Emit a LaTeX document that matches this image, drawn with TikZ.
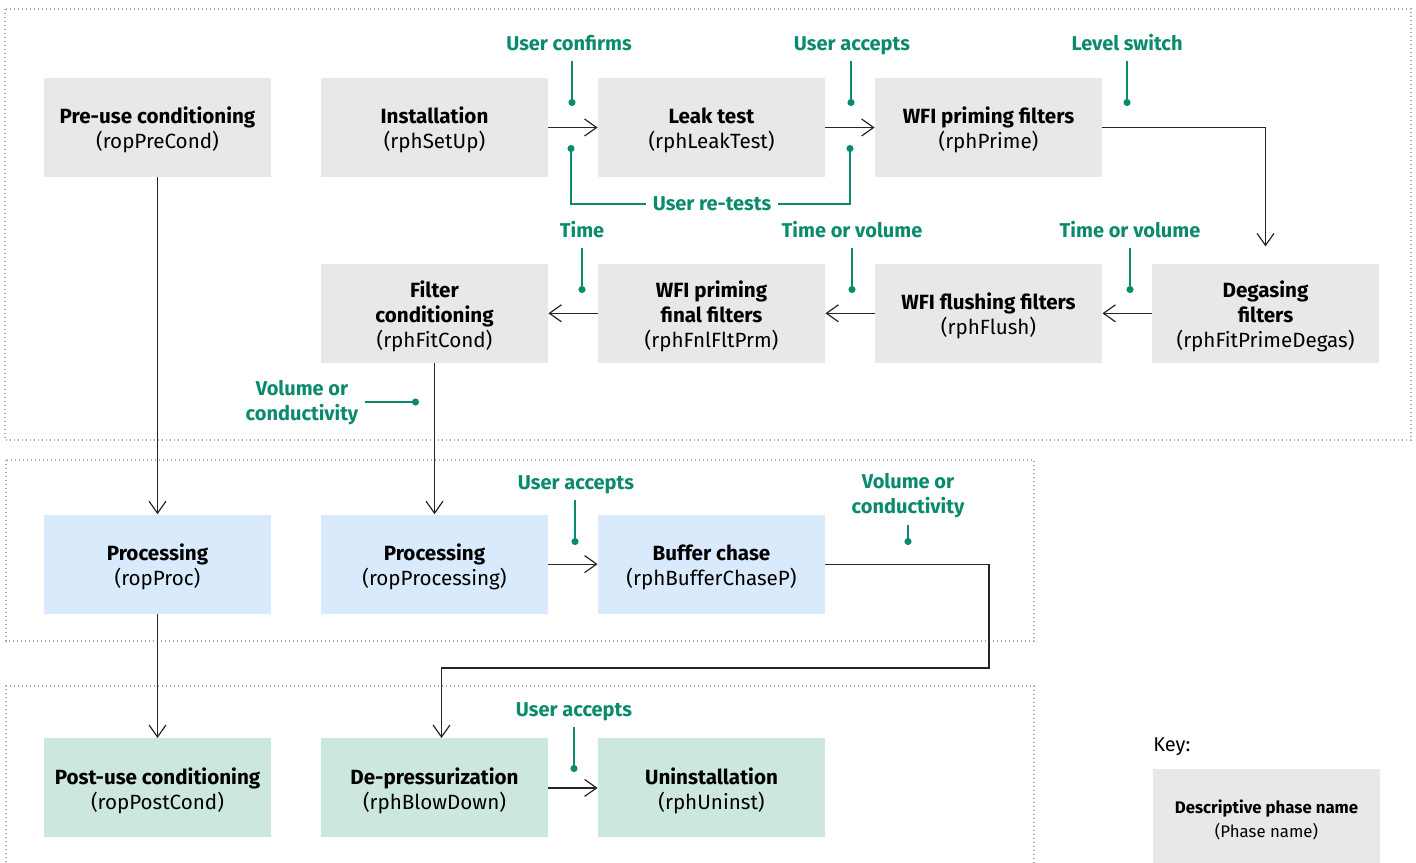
\documentclass[tikz,border=0pt]{standalone}
\usepackage{fontspec}
\setmainfont{Fira Sans}
\usetikzlibrary{positioning}
\usetikzlibrary{arrows.meta}

\definecolor{phaseGray}{HTML}{E8E8E8}
\definecolor{phaseBlue}{HTML}{D9EAFC}
\definecolor{phaseGreen}{HTML}{CCE7E0}
\definecolor{condTeal}{HTML}{0B8A6D}
\definecolor{frameGray}{HTML}{A8A8A8}

\newcommand{\topgap}{\rule{0pt}{11pt}}

\tikzset{
	phase/.style={fill=phaseGray, minimum width=113.5pt, minimum height=49.5pt, inner sep=0pt, align=center, font=\fontsize{10.3}{12.5}\selectfont},
	arr/.style={draw=black!85, line width=0.6pt, -{Straight Barb[length=6pt,width=8.5pt]}},
	cond/.style={text=condTeal, align=center, font=\fontsize{10}{12.5}\selectfont\bfseries},
	condline/.style={cond, text height=9.2pt, text depth=2.4pt, inner ysep=2.5pt},
	pin/.style={draw=condTeal, line width=0.7pt, -{Circle[length=3.5pt]}},
	frame/.style={draw=frameGray, line width=0.6pt, dash pattern=on 0.6pt off 1.4pt}
}

\begin{document}
\begin{tikzpicture}[x=0.5pt, y=-0.5pt]
			\useasboundingbox (0,0) rectangle (1416,862);
			
			\draw[frame] (5,9) rectangle (1411,440);
			\draw[frame] (6,460) rectangle (1034,641);
			\draw[frame] (6,870) |- (1034,686) -- (1034,870);
			
			\node[phase] (preCond) at (157.5,127.5) {\topgap\textbf{Pre-use conditioning}\\(ropPreCond)};
			\node[phase, right = 24.6pt of preCond] (setUp) {\topgap\textbf{Installation}\\(rphSetUp)};
			\node[phase, right = 24.6pt of setUp] (leakTest) {\topgap\textbf{Leak test}\\(rphLeakTest)};
			\node[phase, right = 24.6pt of leakTest] (prime) {\topgap\textbf{WFI priming filters}\\(rphPrime)};
			
			\node[phase, below = 43pt of setUp] (fltCond) {\topgap\textbf{Filter}\\\textbf{conditioning}\\(rphFitCond)};
			\node[phase, right = 24.6pt of fltCond] (fnlFltPrm) {\topgap\textbf{WFI priming}\\\textbf{final filters}\\(rphFnlFltPrm)};
			\node[phase, right = 24.6pt of fnlFltPrm] (flush) {\topgap\textbf{WFI flushing filters}\\(rphFlush)};
			\node[phase, right = 24.6pt of flush] (degas) {\topgap\textbf{Degasing}\\\textbf{filters}\\(rphFitPrimeDegas)};
			
			\node[phase, fill = phaseBlue, below = 75.5pt of fltCond] (processing) {\topgap\textbf{Processing}\\(ropProcessing)};
			\node[phase, fill = phaseBlue, left = 24.6pt of processing] (proc) {\topgap\textbf{Processing}\\(ropProc)};
			\node[phase, fill = phaseBlue, right = 24.6pt of processing] (bufferChase) {\topgap\textbf{Buffer chase}\\(rphBufferChaseP)};
			
			\node[phase, fill = phaseGreen, below = 62pt of processing] (blowDown) {\topgap\textbf{De-pressurization}\\(rphBlowDown)};
			\node[phase, fill = phaseGreen, left = 24.6pt of blowDown] (postCond) {\topgap\textbf{Post-use conditioning}\\(ropPostCond)};
			\node[phase, fill = phaseGreen, right = 24.6pt of blowDown] (uninst) {\topgap\textbf{Uninstallation}\\(rphUninst)};
			
			% key
			\node[anchor = west, font = \fontsize{10}{12}\selectfont, inner sep = 0pt] (keyTitle) at (1153,747) {Key:};
			\node[phase, minimum height = 50.5pt, font = \fontsize{8.4}{12}\selectfont] (keyBox) at (1266.5,819.5) {\textbf{Descriptive phase name}\\(Phase name)};
			
			% transitions
			\path[arr] (setUp) -- (leakTest);
			\path[arr] (leakTest) -- (prime);
			\path[arr, shorten >= 8.5pt] (prime.east) -| (degas.north);
			\path[arr] (degas) -- (flush);
			\path[arr] (flush) -- (fnlFltPrm);
			\path[arr] (fnlFltPrm) -- (fltCond);
			\path[arr] (fltCond) -- (processing);
			\path[arr] (preCond) -- (proc);
			\path[arr] (proc) -- (postCond);
			\path[arr] (processing) -- (bufferChase);
			\coordinate (bend) at (989,668);
			\path[arr] (bufferChase.east) -| (bend) -| ([xshift = 3.5pt]blowDown.north);
			\path[arr] (blowDown) -- (uninst);
			
			% conditions
			\node[condline] (confirm) at (569,44) {User confirms};
			\node[condline] (accept1) at (852,44) {User accepts};
			\node[condline] (level) at (1127,44) {Level switch};
			\node[condline] (retests) at (712,204) {User re-tests};
			\node[condline] (time) at (582,231) {Time};
			\node[condline] (timeVol1) at (852,231) {Time or volume};
			\node[condline] (timeVol2) at (1130,231) {Time or volume};
			\node[cond] (volCond1) at (302,403) {Volume or\\conductivity};
			\node[condline] (accept2) at (576,483) {User accepts};
			\node[cond] (volCond2) at (908,496) {Volume or\\conductivity};
			\node[condline] (accept3) at (574,710) {User accepts};
			
			\coordinate (confirmDot) at (572,106);
			\coordinate (accept1Dot) at (851,106);
			\coordinate (levelDot) at (1127,106);
			\coordinate (retestDotA) at (571,145);
			\coordinate (retestDotB) at (850,145);
			\coordinate (timeDot) at (582,293);
			\coordinate (timeVol1Dot) at (852,293);
			\coordinate (timeVol2Dot) at (1130,293);
			\coordinate (volCond1Dot) at (419,402);
			\coordinate (accept2Dot) at (575,545);
			\coordinate (volCond2Dot) at (908,545);
			\coordinate (accept3Dot) at (574,772);
			
			\path[pin] (confirm.south -| confirmDot) -- (confirmDot);
			\path[pin] (accept1.south -| accept1Dot) -- (accept1Dot);
			\path[pin] (level.south -| levelDot) -- (levelDot);
			\path[pin] (retests.west) -| (retestDotA);
			\path[pin] (retests.east) -| (retestDotB);
			\path[pin] (time.south -| timeDot) -- (timeDot);
			\path[pin] (timeVol1.south -| timeVol1Dot) -- (timeVol1Dot);
			\path[pin] (timeVol2.south -| timeVol2Dot) -- (timeVol2Dot);
			\path[pin] (volCond1.east |- volCond1Dot) -- (volCond1Dot);
			\path[pin] (accept2.south -| accept2Dot) -- (accept2Dot);
			\path[pin] (volCond2.south -| volCond2Dot) -- (volCond2Dot);
			\path[pin] (accept3.south -| accept3Dot) -- (accept3Dot);
\end{tikzpicture}
\end{document}
